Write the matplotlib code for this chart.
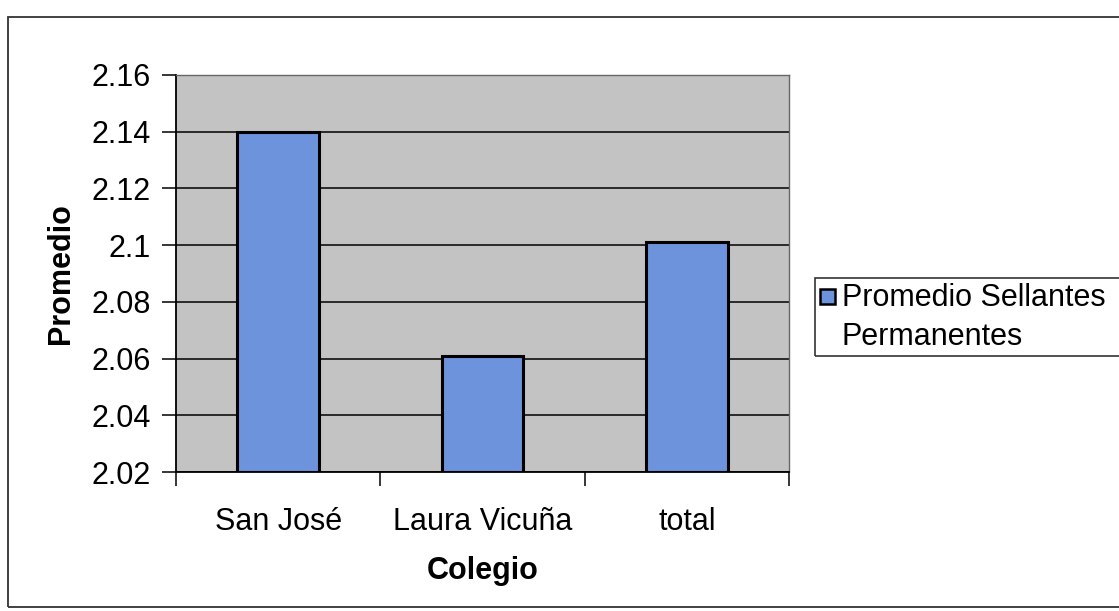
import matplotlib
matplotlib.use("Agg")
import matplotlib.pyplot as plt
from matplotlib.patches import Rectangle
import numpy as np

categories = ["San José", "Laura Vicuña", "total"]
promedio = [2.140, 2.061, 2.101]
series_label = "Promedio Sellantes\nPermanentes"
y_ticks = [2.02, 2.04, 2.06, 2.08, 2.1, 2.12, 2.14, 2.16]
y_tick_labels = ["2.02", "2.04", "2.06", "2.08", "2.1", "2.12", "2.14", "2.16"]

plt.rcParams["font.family"] = ["Liberation Sans", "DejaVu Sans"]
FS = 22

W, H = 1119, 611
fig = plt.figure(figsize=(W / 100, H / 100), dpi=100)

# outer chart border
fig.patches.append(Rectangle((8 / W, 1 - 607 / H), 1.2, (607 - 17) / H,
                             transform=fig.transFigure, fill=False,
                             edgecolor="#333333", linewidth=1.3))

ax = fig.add_axes([176 / W, 1 - 472 / H, (789 - 176) / W, (472 - 75) / H])
ax.set_facecolor("#c3c3c3")

x = np.arange(len(categories))
ax.bar(x, np.array(promedio) - 2.02, bottom=2.02, width=0.4, color="#6d93dc",
       edgecolor="black", linewidth=2.2, zorder=3)

ax.set_xlim(-0.5, len(categories) - 0.5)
ax.set_ylim(2.02, 2.16)
ax.set_yticks(y_ticks)
ax.set_yticklabels(y_tick_labels)
ax.yaxis.grid(True, color="black", linewidth=1.1, zorder=1)
ax.set_axisbelow(True)

ax.set_xticks(x)
ax.set_xticklabels(categories)
ax.set_xticks(np.arange(len(categories) + 1) - 0.5, minor=True)
ax.tick_params(axis="x", which="major", length=0, pad=25, labelsize=FS)
ax.tick_params(axis="x", which="minor", length=10, width=1.1, direction="out")
ax.tick_params(axis="y", length=10, width=1.1, pad=8, labelsize=FS)

for side in ["left", "bottom"]:
    ax.spines[side].set_linewidth(1.3)
for side in ["right", "top"]:
    ax.spines[side].set_color("#666666")
    ax.spines[side].set_linewidth(1.0)

ax.set_xlabel("Colegio", fontsize=FS, fontweight="bold", labelpad=14)
ax.set_ylabel("Promedio", fontsize=FS, fontweight="bold", labelpad=11)

# legend
fig.patches.append(Rectangle((815 / W, 1 - 356 / H), 1.0, (356 - 278) / H,
                             transform=fig.transFigure, fill=False,
                             edgecolor="#333333", linewidth=1.2))
fig.patches.append(Rectangle((820 / W, 1 - 304 / H), 15 / W, 15 / H,
                             transform=fig.transFigure, facecolor="#6d93dc",
                             edgecolor="black", linewidth=1.8))
fig.text(842 / W, 1 - 283 / H, series_label, fontsize=FS, va="top",
         ha="left", linespacing=1.4)

fig.savefig("out.png", dpi=100)
